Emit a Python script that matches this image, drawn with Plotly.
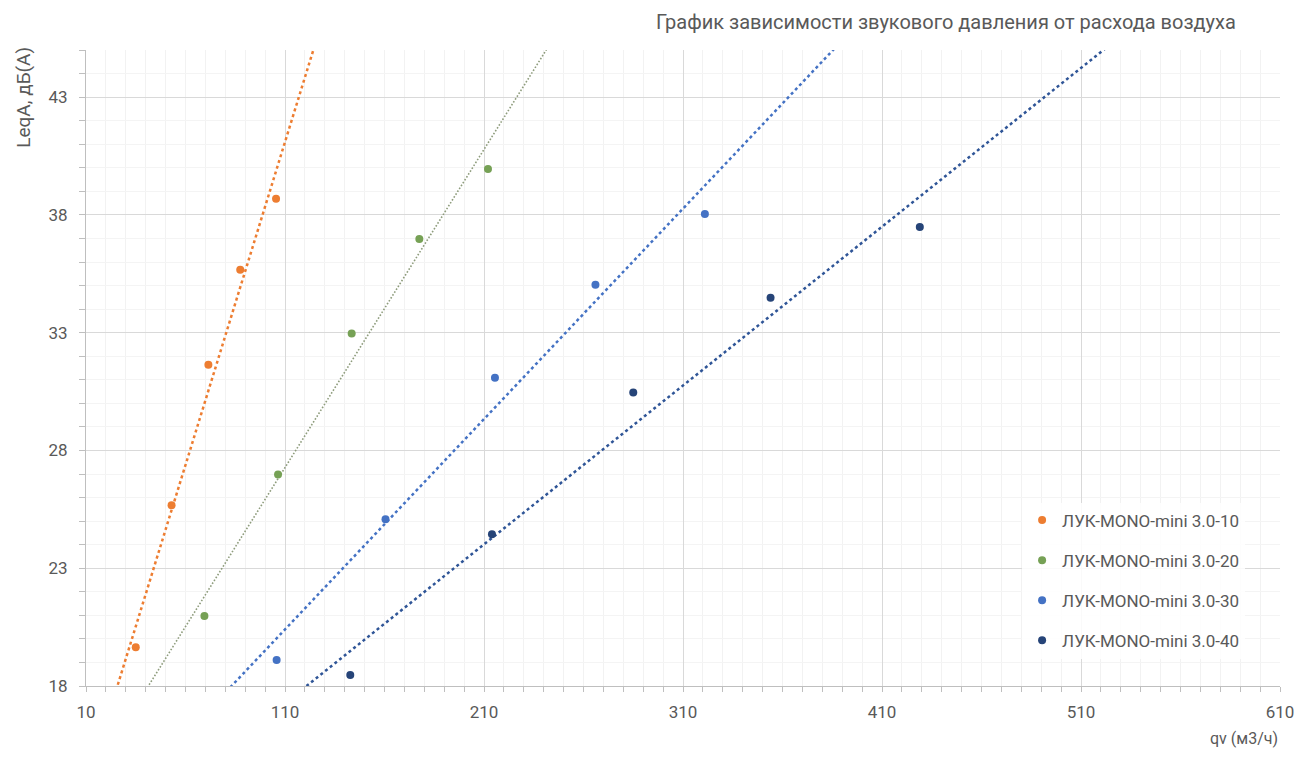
import numpy as np
import plotly.graph_objects as go

# flow rate qv (m3/h) and sound level LeqA (dB(A)) per model
series_names = [
    "ЛУК-MONO-mini 3.0-10",
    "ЛУК-MONO-mini 3.0-20",
    "ЛУК-MONO-mini 3.0-30",
    "ЛУК-MONO-mini 3.0-40",
]
qv_10 = [35, 53, 71.5, 87.5, 105.5]
leq_10 = [19.65, 25.67, 31.64, 35.67, 38.68]
qv_20 = [69.5, 106.5, 143.5, 177.5, 212]
leq_20 = [20.97, 26.98, 32.96, 36.98, 39.95]
qv_30 = [105.8, 160.5, 215.5, 266, 321]
leq_30 = [19.1, 25.08, 31.09, 35.03, 38.04]
qv_40 = [142.8, 214, 285, 354, 429]
leq_40 = [18.47, 24.44, 30.46, 34.48, 37.49]

xs = [qv_10, qv_20, qv_30, qv_40]
ys = [leq_10, leq_20, leq_30, leq_40]

marker_colors = ["#ED7D31", "#76A155", "#4472C4", "#264478"]
trend_colors = ["#ED7D31", "#8E9C7C", "#4472C4", "#2F5597"]
trend_widths = [2.5, 1.6, 2.5, 2.5]
trend_dash = ["3px,3px", "1.6px,1.8px", "3px,3px", "3px,3px"]

FONT = "Roboto, sans-serif"
TXT = "#595959"

fig = go.Figure()

# linear trendlines (least squares), clipped by the axis range
for i in range(4):
    k, b = np.polyfit(xs[i], ys[i], 1)
    tx = np.array([10, 610])
    fig.add_trace(go.Scatter(
        x=tx, y=k * tx + b, mode="lines", showlegend=False, hoverinfo="skip",
        line=dict(color=trend_colors[i], width=trend_widths[i], dash=trend_dash[i]),
    ))

for i in range(4):
    fig.add_trace(go.Scatter(
        x=xs[i], y=ys[i], mode="markers", name=series_names[i],
        legendgroup=series_names[i],
        marker=dict(color=marker_colors[i], size=8),
    ))

# page body has an 8px margin, so the figure is sized to fit the window
fig.update_layout(
    width=1298, height=742,
    margin=dict(l=78, r=20, t=42, b=64),
    paper_bgcolor="white", plot_bgcolor="white",
    font=dict(family=FONT, color=TXT, size=17),
    showlegend=True,
    legend=dict(
        x=0.784, y=0.2885, xanchor="left", yanchor="top",
        bgcolor="rgba(255,255,255,0.85)", font=dict(size=17, color=TXT),
        tracegroupgap=15,
    ),
    annotations=[
        dict(text="График зависимости звукового давления от расхода воздуха",
             xref="paper", yref="paper", x=0.965, y=1.044, xanchor="right",
             yanchor="middle", showarrow=False, font=dict(size=20, color=TXT)),
        dict(text="LeqA, дБ(А)", xref="paper", yref="paper", x=-0.053, y=0.926,
             xanchor="center", yanchor="middle",
             textangle=-90, showarrow=False, font=dict(size=19, color=TXT)),
        dict(text="qv (м3/ч)", xref="paper", yref="paper", x=1.0, y=-0.083,
             xanchor="right", yanchor="middle", showarrow=False,
             font=dict(size=16, color=TXT)),
    ],
)

fig.update_xaxes(
    range=[10, 610], tick0=10, dtick=100,
    showline=True, linecolor="#BFBFBF", linewidth=1,
    showgrid=True, gridcolor="#D9D9D9", gridwidth=1,
    ticks="outside", ticklen=5, tickcolor="#BFBFBF",
    zeroline=False, ticklabelstandoff=6,
    minor=dict(dtick=10, tick0=10, showgrid=True, gridcolor="#F2F2F2",
               ticks="outside", ticklen=5, tickcolor="#BFBFBF"),
)
fig.update_yaxes(
    range=[18, 45], tick0=18, dtick=5,
    showline=True, linecolor="#BFBFBF", linewidth=1,
    showgrid=True, gridcolor="#D9D9D9", gridwidth=1,
    ticks="outside", ticklen=6, tickcolor="#BFBFBF",
    zeroline=False, ticklabelstandoff=8,
    minor=dict(dtick=1, tick0=18, showgrid=True, gridcolor="#F4F4F4",
               ticks="outside", ticklen=6, tickcolor="#BFBFBF"),
)

fig.write_html("out.html")
